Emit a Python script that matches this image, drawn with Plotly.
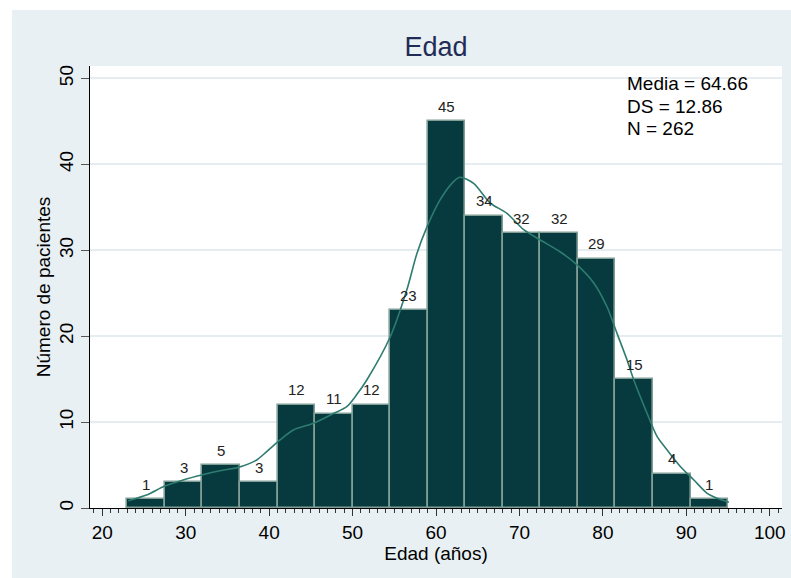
import plotly.graph_objects as go

# Histogram of patient ages: bin edges (width 4.5 years) and counts per bin
bin_start = 23.0
bin_width = 4.5
counts = [1, 3, 5, 3, 12, 11, 12, 23, 45, 34, 32, 32, 29, 15, 4, 1]

# Kernel density estimate, scaled to frequency
kde_x = [23.1, 25.3, 27.5, 29.7, 31.9, 34.1, 36.3, 38.5, 39.7, 41.3, 42.9, 45.3,
         47.7, 49.3, 50.5, 51.7, 54.5, 56.5, 57.7, 58.9, 60.5, 62.1, 62.9, 64.5,
         66.5, 68.5, 70.5, 72.5, 74.9, 76.9, 78.9, 80.5, 81.7, 82.9, 83.7, 85.3,
         86.5, 87.7, 89.3, 90.9, 92.5, 93.7, 95.1]
kde_y = [0.85, 1.51, 2.56, 3.26, 3.84, 4.34, 4.73, 5.59, 6.56, 7.92, 9.08, 9.86,
         11.0, 11.8, 13.2, 14.9, 19.9, 25.4, 29.6, 32.7, 35.9, 38.0, 38.5, 37.8,
         35.5, 34.3, 32.4, 31.2, 29.8, 28.3, 26.2, 23.4, 20.3, 17.2, 14.9, 11.0,
         8.3, 6.75, 4.81, 3.26, 1.71, 1.13, 0.66]

x_ticks = [20, 30, 40, 50, 60, 70, 80, 90, 100]
y_ticks = [0, 10, 20, 30, 40, 50]
stats_lines = ["Media = 64.66", "DS = 12.86", "N = 262"]

centers = [bin_start + bin_width * (i + 0.5) for i in range(len(counts))]

BG = "#E9F0F3"
BAR_FILL = "#063A3E"
BAR_EDGE = "#809E96"
KDE_COLOR = "#2E7B6F"
FONT = "Arial, Liberation Sans, sans-serif"

fig = go.Figure()

fig.add_trace(go.Bar(
    x=centers, y=counts, width=bin_width,
    marker=dict(color=BAR_FILL, line=dict(color=BAR_EDGE, width=1.6)),
    hoverinfo="x+y", showlegend=False,
))

fig.add_trace(go.Scatter(
    x=kde_x, y=kde_y, mode="lines",
    line=dict(color=KDE_COLOR, width=1.6, shape="spline", smoothing=0.8),
    hoverinfo="skip", showlegend=False,
))

annotations = []
# Count labels above each bar
for cx, c in zip(centers, counts):
    annotations.append(dict(
        x=cx, y=c, xref="x", yref="y", text=str(c), showarrow=False,
        yanchor="middle", yshift=15,
        font=dict(family=FONT, size=15, color="#222222"),
    ))

# Summary statistics block, top right
stats_y = [0.9593, 0.9079, 0.8590]
for txt, yy in zip(stats_lines, stats_y):
    annotations.append(dict(
        x=0.7735, y=yy, xref="paper", yref="paper", text=txt, showarrow=False,
        xanchor="left", yanchor="middle",
        font=dict(family=FONT, size=19, color="#000000"),
    ))

shapes = [
    # white page strips around the graph region
    dict(type="rect", xref="paper", yref="paper", layer="above",
         x0=-0.2, x1=1.1, y0=(508 - 10) / 442, y1=1.3,
         fillcolor="white", line=dict(width=0)),
    dict(type="rect", xref="paper", yref="paper", layer="above",
         x0=-0.2, x1=(12 - 90) / 692, y0=-0.3, y1=1.3,
         fillcolor="white", line=dict(width=0)),
]

fig.update_layout(
    width=791, height=578,
    margin=dict(l=90, r=9, t=66, b=70, pad=0),
    paper_bgcolor=BG, plot_bgcolor="white",
    bargap=0,
    font=dict(family=FONT, color="#000000"),
    title=dict(text="Edad", x=0.5, xref="paper", y=1 - 46.3 / 578,
               yanchor="middle", xanchor="center",
               font=dict(family=FONT, size=27, color="#1F2D56")),
    annotations=annotations,
    shapes=shapes,
    xaxis=dict(
        range=[18.53, 101.46], tickvals=x_ticks, ticks="outside",
        ticklen=7, tickwidth=1, tickcolor="#333333", automargin=False,
        showline=True, linecolor="#000000", linewidth=1,
        showgrid=False, zeroline=False,
        tickfont=dict(family=FONT, size=19, color="#000000"),
        minor=dict(dtick=1, tick0=0, ticks="outside", ticklen=4,
                   tickwidth=1, tickcolor="#333333", showgrid=False),
        title=dict(text="Edad (años)", standoff=0,
                   font=dict(family=FONT, size=19, color="#000000")),
    ),
    yaxis=dict(
        range=[0, 51.45], tickvals=y_ticks, ticks="outside",
        ticklen=8, tickwidth=1, tickcolor="#555555", tickangle=-90,
        automargin=False,
        showline=True, linecolor="#000000", linewidth=1,
        showgrid=True, gridcolor="#E6EDF1", gridwidth=1.5, zeroline=False,
        tickfont=dict(family=FONT, size=19, color="#000000"),
        title=dict(text="Número de pacientes", standoff=0,
                   font=dict(family=FONT, size=19, color="#000000")),
    ),
)

fig.write_html("out.html")
